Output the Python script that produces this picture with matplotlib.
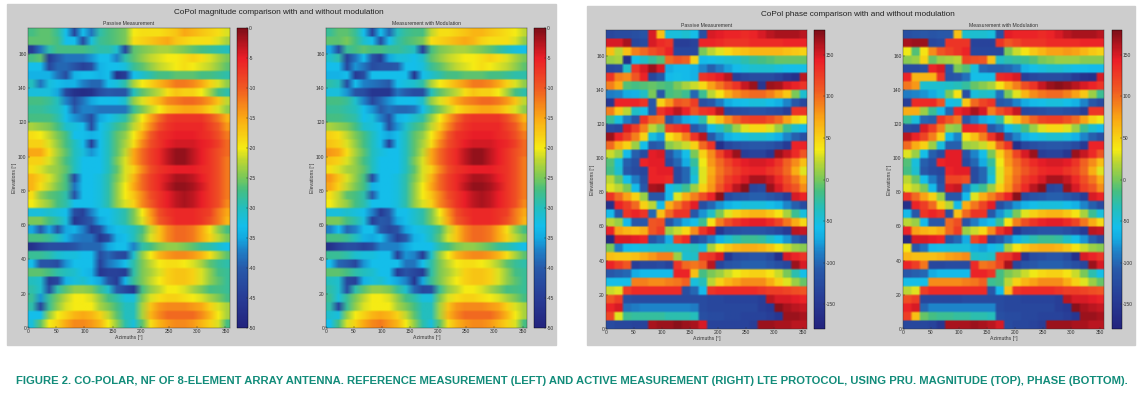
import numpy as np
import matplotlib.pyplot as plt
from matplotlib.cm import ScalarMappable
from matplotlib.colors import LinearSegmentedColormap, Normalize
from matplotlib.patches import Rectangle

W, H = 1141, 396

# all grids: rows run from elevation 175 (top) to 0, columns are 15 deg azimuth bins
mag_passive = [
    [-27,-26,-26,-28,-33,-43,-33,-38,-29,-27,-26,-25,-20,-19,-19,-19,-18,-17,-15,-16,-17,-18,-19,-21],
    [-26,-26,-26,-27,-33,-33,-42,-32,-28,-27,-26,-25,-19,-18,-17,-16,-15,-17,-18,-19,-19,-19,-21,-23],
    [-45,-38,-29,-27,-27,-27,-27,-28,-29,-29,-31,-43,-26,-25,-24,-23,-23,-24,-25,-26,-27,-28,-29,-30],
    [-27,-26,-45,-40,-38,-38,-38,-36,-33,-33,-37,-29,-26,-24,-22,-21,-20,-20,-19,-18,-19,-21,-23,-25],
    [-33,-33,-43,-39,-39,-41,-44,-42,-34,-33,-33,-32,-28,-26,-24,-22,-21,-20,-19,-20,-21,-22,-24,-26],
    [-34,-34,-34,-38,-42,-34,-33,-33,-34,-33,-47,-45,-33,-31,-29,-27,-27,-26,-26,-26,-27,-27,-28,-29],
    [-30,-38,-32,-33,-34,-34,-37,-39,-39,-33,-32,-29,-23,-20,-18,-16,-14,-12,-12,-13,-15,-18,-21,-24],
    [-32,-32,-32,-35,-43,-47,-48,-47,-42,-40,-41,-41,-30,-26,-24,-22,-19,-17,-18,-18,-20,-23,-27,-29],
    [-27,-27,-28,-30,-37,-42,-38,-35,-33,-33,-33,-31,-24,-21,-18,-16,-13,-12,-11,-11,-12,-14,-17,-22],
    [-28,-28,-29,-30,-33,-40,-37,-37,-38,-38,-38,-38,-28,-25,-22,-20,-17,-16,-15,-15,-16,-18,-21,-24],
    [-27,-27,-27,-29,-33,-36,-38,-42,-35,-33,-31,-29,-24,-20,-15,-11,-8,-7,-7,-7,-7,-9,-12,-16],
    [-23,-24,-25,-27,-31,-32,-33,-42,-33,-31,-28,-26,-22,-18,-13,-9,-7,-6,-6,-6,-6,-8,-10,-14],
    [-19,-20,-22,-25,-27,-33,-33,-34,-33,-30,-26,-24,-20,-15,-10,-7,-6,-5,-5,-5,-6,-7,-9,-12],
    [-18,-18,-21,-24,-27,-30,-33,-44,-33,-30,-26,-23,-19,-13,-9,-7,-5,-4,-4,-4,-5,-6,-8,-11],
    [-15,-15,-19,-23,-26,-30,-32,-36,-33,-30,-26,-22,-15,-11,-8,-6,-3,-1,-1,-3,-5,-7,-9,-11],
    [-18,-18,-21,-24,-27,-30,-33,-33,-33,-30,-25,-21,-15,-11,-8,-6,-3,-1,-1,-3,-5,-7,-9,-12],
    [-19,-21,-23,-24,-26,-30,-33,-33,-33,-30,-26,-21,-18,-13,-9,-7,-6,-5,-5,-5,-6,-7,-9,-12],
    [-16,-18,-21,-24,-27,-42,-33,-33,-32,-29,-25,-21,-16,-11,-8,-6,-4,-2,-2,-3,-5,-7,-9,-12],
    [-16,-19,-22,-25,-27,-38,-33,-33,-32,-29,-24,-20,-15,-11,-8,-6,-3,-1,-1,-2,-4,-7,-9,-12],
    [-19,-24,-26,-27,-29,-41,-33,-33,-32,-29,-24,-20,-17,-13,-9,-7,-5,-3,-2,-3,-5,-7,-9,-12],
    [-20,-22,-24,-27,-29,-33,-33,-33,-32,-29,-24,-21,-18,-13,-10,-7,-5,-3,-2,-3,-5,-7,-9,-13],
    [-32,-32,-31,-32,-33,-42,-44,-37,-33,-33,-31,-29,-25,-20,-14,-9,-7,-6,-6,-6,-7,-8,-12,-15],
    [-25,-25,-27,-29,-32,-46,-43,-40,-35,-33,-31,-29,-25,-21,-15,-10,-8,-6,-6,-6,-7,-9,-12,-16],
    [-35,-40,-35,-41,-35,-34,-37,-45,-42,-35,-33,-32,-30,-27,-22,-17,-13,-11,-11,-12,-15,-19,-24,-27],
    [-27,-27,-28,-30,-34,-37,-38,-38,-46,-42,-34,-33,-30,-26,-21,-17,-13,-11,-11,-12,-15,-18,-22,-25],
    [-47,-44,-42,-42,-42,-41,-39,-39,-39,-35,-33,-33,-37,-29,-27,-25,-24,-24,-25,-26,-28,-29,-31,-33],
    [-28,-28,-29,-31,-32,-32,-33,-33,-42,-39,-42,-43,-31,-24,-20,-16,-14,-13,-13,-14,-16,-19,-23,-26],
    [-33,-41,-41,-42,-36,-33,-33,-33,-44,-38,-36,-33,-29,-25,-22,-20,-19,-19,-20,-21,-23,-26,-28,-29],
    [-26,-26,-27,-29,-30,-31,-33,-34,-46,-44,-44,-45,-29,-25,-23,-21,-18,-17,-17,-18,-21,-24,-27,-28],
    [-30,-31,-45,-43,-34,-32,-31,-33,-35,-41,-45,-34,-28,-25,-22,-20,-18,-17,-17,-18,-21,-24,-26,-28],
    [-29,-31,-42,-29,-26,-24,-24,-25,-28,-31,-40,-43,-46,-27,-24,-22,-20,-20,-21,-23,-25,-27,-27,-28],
    [-28,-36,-28,-25,-22,-20,-20,-21,-24,-27,-29,-32,-32,-25,-21,-19,-18,-18,-19,-20,-21,-23,-25,-27],
    [-29,-43,-28,-24,-21,-20,-20,-20,-23,-25,-27,-30,-30,-23,-17,-14,-13,-13,-13,-14,-15,-18,-21,-23],
    [-33,-33,-24,-20,-18,-16,-15,-16,-18,-22,-26,-30,-30,-23,-16,-13,-11,-11,-11,-11,-13,-16,-20,-23],
    [-32,-26,-20,-18,-15,-13,-13,-14,-16,-20,-24,-29,-32,-26,-19,-16,-14,-13,-13,-14,-16,-18,-21,-27],
]

mag_modulated = [
    [-28,-26,-26,-28,-33,-44,-33,-39,-30,-28,-27,-27,-22,-19,-19,-18,-17,-16,-16,-17,-18,-19,-20,-22],
    [-26,-26,-25,-27,-31,-33,-42,-33,-29,-27,-26,-25,-19,-18,-17,-16,-15,-16,-18,-19,-19,-19,-21,-24],
    [-35,-42,-28,-27,-26,-27,-27,-28,-28,-29,-30,-44,-27,-25,-24,-23,-23,-24,-25,-26,-28,-30,-32,-33],
    [-31,-29,-44,-38,-33,-41,-45,-35,-32,-32,-33,-31,-26,-24,-22,-21,-20,-20,-19,-18,-19,-21,-23,-25],
    [-33,-33,-43,-36,-38,-42,-41,-41,-40,-33,-33,-32,-28,-26,-24,-22,-21,-20,-19,-20,-21,-22,-24,-26],
    [-34,-34,-33,-45,-42,-33,-33,-33,-33,-33,-46,-33,-31,-29,-27,-27,-26,-26,-26,-27,-27,-28,-29,-29],
    [-29,-30,-42,-33,-37,-38,-39,-40,-33,-32,-31,-29,-23,-20,-18,-16,-14,-12,-12,-13,-15,-18,-21,-24],
    [-32,-32,-36,-41,-42,-46,-46,-46,-38,-40,-42,-42,-30,-26,-24,-22,-19,-17,-18,-18,-20,-23,-27,-29],
    [-27,-27,-28,-31,-37,-43,-39,-36,-33,-33,-33,-31,-24,-21,-18,-15,-13,-12,-11,-11,-12,-14,-17,-22],
    [-28,-28,-29,-30,-33,-36,-40,-38,-39,-39,-38,-33,-28,-25,-22,-19,-17,-16,-15,-15,-16,-18,-21,-24],
    [-27,-27,-28,-29,-33,-32,-37,-42,-34,-33,-31,-29,-24,-20,-15,-11,-8,-7,-7,-7,-7,-9,-12,-16],
    [-23,-24,-25,-27,-31,-32,-33,-42,-36,-31,-28,-26,-22,-18,-13,-9,-7,-6,-6,-6,-6,-8,-10,-14],
    [-18,-19,-22,-25,-27,-30,-33,-35,-33,-30,-26,-24,-20,-15,-10,-7,-6,-5,-5,-5,-6,-7,-9,-12],
    [-17,-18,-21,-24,-27,-30,-33,-44,-33,-30,-26,-23,-19,-13,-9,-7,-5,-4,-4,-4,-5,-6,-8,-11],
    [-14,-15,-19,-23,-26,-30,-32,-33,-33,-30,-26,-22,-15,-11,-8,-6,-3,-1,-1,-3,-5,-7,-9,-11],
    [-17,-18,-21,-24,-27,-30,-33,-33,-33,-30,-25,-21,-15,-11,-8,-6,-3,-1,-1,-3,-5,-7,-9,-12],
    [-19,-21,-23,-24,-26,-30,-33,-33,-33,-30,-26,-21,-18,-13,-9,-7,-6,-5,-5,-5,-6,-7,-9,-12],
    [-14,-17,-21,-24,-27,-42,-33,-33,-32,-29,-25,-21,-16,-11,-8,-6,-4,-2,-2,-3,-5,-7,-9,-12],
    [-15,-18,-22,-25,-27,-34,-33,-33,-32,-29,-24,-20,-15,-11,-8,-6,-3,-1,-1,-2,-4,-7,-9,-12],
    [-19,-22,-26,-27,-29,-40,-33,-33,-32,-29,-24,-20,-17,-13,-9,-7,-5,-3,-2,-3,-5,-7,-9,-12],
    [-20,-22,-24,-27,-29,-33,-33,-33,-32,-29,-24,-21,-18,-13,-10,-7,-5,-3,-2,-3,-5,-7,-9,-13],
    [-32,-32,-31,-32,-33,-37,-45,-40,-33,-33,-31,-29,-25,-20,-14,-9,-7,-6,-6,-6,-7,-8,-12,-15],
    [-25,-25,-27,-29,-32,-44,-40,-41,-35,-33,-31,-29,-25,-21,-15,-10,-8,-6,-6,-6,-7,-9,-12,-16],
    [-37,-33,-39,-37,-33,-33,-40,-43,-41,-35,-33,-32,-30,-27,-22,-17,-13,-11,-11,-12,-15,-19,-24,-27],
    [-27,-27,-28,-30,-34,-35,-33,-38,-44,-40,-34,-33,-30,-26,-21,-17,-13,-11,-11,-12,-15,-18,-22,-25],
    [-47,-44,-42,-42,-44,-42,-37,-37,-37,-35,-33,-33,-33,-29,-27,-25,-24,-24,-25,-26,-28,-29,-31,-33],
    [-28,-28,-29,-31,-32,-32,-33,-33,-44,-36,-37,-45,-31,-24,-20,-16,-14,-13,-13,-14,-16,-19,-23,-26],
    [-33,-39,-40,-43,-36,-33,-33,-33,-33,-38,-38,-33,-29,-25,-22,-20,-19,-19,-20,-21,-23,-26,-28,-29],
    [-26,-26,-27,-29,-30,-31,-33,-33,-45,-41,-43,-45,-29,-25,-23,-21,-18,-17,-17,-18,-21,-24,-27,-28],
    [-30,-31,-43,-44,-34,-32,-31,-33,-35,-37,-46,-35,-28,-25,-22,-20,-18,-17,-17,-18,-21,-24,-26,-28],
    [-29,-31,-42,-29,-26,-24,-24,-25,-28,-31,-39,-43,-42,-28,-24,-22,-20,-20,-21,-23,-25,-27,-27,-28],
    [-28,-32,-28,-25,-22,-20,-20,-21,-24,-27,-29,-32,-32,-25,-21,-19,-18,-18,-19,-20,-21,-23,-25,-27],
    [-29,-43,-28,-24,-21,-20,-20,-20,-23,-25,-27,-30,-30,-23,-17,-14,-13,-13,-13,-14,-15,-18,-21,-23],
    [-31,-32,-24,-20,-18,-16,-15,-16,-18,-22,-26,-30,-30,-23,-16,-13,-11,-11,-11,-11,-13,-16,-20,-23],
    [-33,-27,-21,-18,-15,-13,-12,-14,-16,-20,-24,-29,-32,-26,-19,-16,-14,-13,-13,-14,-16,-18,-21,-27],
]

phase_passive = [
    [-130,-125,-125,-120,-115,150,60,-50,-50,-45,-55,-120,150,145,140,140,135,140,150,160,165,165,165,160],
    [150,150,165,-130,-125,150,135,130,-140,-140,-135,140,140,135,130,130,130,135,135,135,135,140,140,140],
    [60,20,60,90,100,115,125,140,-130,-130,-130,0,20,30,45,55,60,65,65,65,65,60,55,50],
    [10,15,-160,-55,-40,-25,-10,100,110,105,50,-60,-55,-50,-45,-40,-30,-20,-15,-10,-5,-5,-5,-5],
    [-130,-125,-40,130,150,170,150,-70,-60,-60,-65,-85,-105,-90,-75,-60,-50,-45,-45,-45,-50,-55,-55,-55],
    [130,90,85,110,140,-130,-110,-60,-55,-60,-65,130,135,145,160,-140,-130,-125,-125,-125,-135,-150,-160,160],
    [90,70,-10,-15,-10,-5,-10,-15,0,15,25,45,75,95,115,130,155,170,-150,170,165,150,140,130],
    [-90,-85,-70,-65,-40,0,-110,-15,-10,-20,-100,-20,20,40,70,85,95,100,100,90,75,55,0,-45],
    [-150,140,140,140,130,-110,50,80,110,105,125,-120,-110,-90,-70,-60,-55,-50,-50,-55,-65,-85,-110,-130],
    [90,55,20,-40,-55,-110,130,145,160,140,110,130,135,160,-130,-125,-120,-115,-115,-120,-125,-140,130,130],
    [-20,-50,-90,-110,130,100,95,-110,-90,-70,-60,-30,30,60,85,105,120,125,125,115,100,75,50,35],
    [-125,-130,150,125,90,20,0,120,130,140,-110,-95,-60,-40,-15,10,30,45,45,30,10,-20,-45,-60],
    [170,140,120,90,50,-50,-75,40,60,90,130,160,-110,-85,-65,-55,-50,-45,-45,-50,-65,-85,-105,-120],
    [100,70,50,10,-55,-110,-105,5,15,25,50,100,130,-160,-130,-120,-115,-110,-110,-115,-125,-145,140,140],
    [25,10,-60,-105,-125,145,150,-110,-85,-55,0,50,85,120,150,170,-140,-135,-135,-150,170,155,135,110],
    [-10,-50,-105,-120,140,145,145,-125,-100,-70,-25,35,80,100,120,135,145,150,150,145,130,105,85,60],
    [-15,-45,-110,-125,-130,140,145,145,-125,-100,-40,30,70,95,110,125,135,140,140,130,120,100,70,30],
    [20,-5,-55,-90,-120,140,140,135,-125,-100,-50,30,75,100,125,135,150,165,165,155,135,115,95,70],
    [30,20,0,-60,-110,165,170,-60,-40,-20,10,50,80,110,135,160,175,-130,-125,170,150,125,110,85],
    [130,100,75,50,10,-110,-110,-60,30,70,90,115,140,175,-125,-115,-110,-105,-105,-110,-120,-140,150,140],
    [-160,140,125,100,50,20,-60,70,95,120,145,-120,-100,-80,-65,-55,-50,-50,-50,-55,-65,-85,-105,-125],
    [-60,-110,130,140,130,-100,60,100,130,130,-110,-80,-40,0,30,50,60,65,65,55,40,15,-20,-50],
    [20,10,-60,-110,-110,110,115,-115,-90,-70,-55,-20,40,90,115,130,140,145,145,135,120,95,70,45],
    [140,75,65,60,70,110,125,10,25,45,85,130,150,-150,-125,-120,-115,-115,-115,-120,-130,-145,160,155],
    [-170,150,150,145,140,-115,-100,-70,120,135,-130,-110,-90,-65,-45,-30,-20,-20,-25,-40,-55,-80,-105,-125],
    [0,-90,-60,-55,-50,-45,-45,-40,-45,-40,-35,-50,15,40,55,65,70,70,65,55,40,25,10,5],
    [60,55,55,60,70,80,90,90,10,-45,-40,125,130,150,-150,-125,-120,-115,-115,-125,-160,150,140,130],
    [140,125,110,-140,-130,-130,-125,-135,130,100,95,105,160,-130,-115,-110,-105,-105,-105,-110,-120,-130,170,150],
    [-110,-105,-100,-70,-60,-60,-60,-60,140,140,60,-15,0,10,25,35,45,50,50,40,25,0,-30,-55],
    [-55,-55,-55,90,90,85,85,90,95,105,-50,-35,20,50,65,75,85,85,85,70,50,30,10,-5],
    [25,30,125,135,135,135,135,135,135,-120,-100,-60,130,135,135,135,135,135,130,125,125,120,115,110],
    [110,125,-120,-125,-125,-125,-125,-125,-125,-125,-125,-125,-130,-130,-135,-135,-135,-135,-140,160,150,150,145,140],
    [140,150,-95,-90,-85,-85,-85,-85,-85,-85,-90,-125,-130,-130,-130,-130,-130,-130,-140,-145,175,165,160,155],
    [120,30,-20,-25,-25,-25,-25,-30,-30,-30,-35,-120,-125,-125,-130,-130,-135,-135,-135,-140,-150,170,170,165],
    [-125,-130,-130,-135,-135,165,170,170,175,170,165,150,-135,-135,-135,-135,-135,-140,170,170,165,165,160,160],
]

phase_modulated = [
    [-120,-115,-110,-115,-110,-110,60,-45,-45,-45,-50,-120,145,140,140,140,135,140,150,160,165,165,165,160],
    [165,170,170,-130,-125,130,130,130,-135,-135,-135,130,110,120,130,130,130,135,135,135,135,140,140,140],
    [35,-10,40,85,110,120,130,140,-130,-130,-130,-130,0,25,40,55,65,75,75,80,75,65,55,50],
    [5,10,50,-5,10,15,20,120,115,110,60,-40,-30,-25,-20,-10,0,5,10,10,10,5,5,5],
    [-125,-125,-120,140,150,-110,0,-10,-50,-100,-105,-105,-100,-90,-65,-55,-50,-45,-45,-50,-55,-55,-60,-60],
    [140,65,65,65,130,-115,-110,-95,-55,-55,-55,135,140,150,-140,-130,-125,-125,-125,-130,-145,-155,-160,150],
    [95,80,-45,-45,-45,-40,-35,-25,-5,5,15,40,70,90,115,130,155,170,175,170,160,150,140,130],
    [-90,-85,-80,-70,-50,0,40,-120,-50,-40,-45,-95,0,30,65,85,95,100,100,90,75,55,10,-20],
    [-140,135,135,135,110,-55,-50,55,100,120,130,-110,-105,-85,-70,-60,-55,-50,-50,-55,-65,-85,-110,-125],
    [70,70,10,-20,-60,-100,140,150,165,150,90,115,130,155,-130,-125,-120,-115,-115,-120,-125,-140,130,130],
    [-20,-50,-100,-105,130,110,95,-110,-90,-70,-60,-30,30,60,85,105,120,125,125,115,100,75,50,35],
    [-125,-130,150,125,90,10,5,140,140,130,-110,-95,-60,-40,-15,10,30,45,45,30,10,-20,-45,-60],
    [160,140,120,90,50,-60,-85,40,60,90,130,160,-110,-85,-65,-55,-50,-45,-45,-50,-65,-85,-105,-120],
    [100,70,50,10,-50,-105,-105,10,15,25,50,100,130,-160,-130,-120,-115,-110,-110,-115,-125,-145,140,140],
    [30,10,-55,-105,-125,145,145,-115,-85,-55,0,50,85,120,150,170,-140,-135,-135,-150,170,155,135,110],
    [-10,-50,-105,-120,140,145,145,-125,-100,-70,-25,35,80,100,120,135,145,150,150,145,130,105,85,60],
    [-15,-45,-110,-125,-130,140,145,145,-125,-100,-40,30,70,95,110,125,135,140,140,130,120,100,70,30],
    [20,-5,-55,-90,-120,120,120,115,-125,-100,-50,30,75,100,125,135,150,165,165,155,135,115,95,70],
    [30,20,0,-60,-110,150,155,-90,-40,-20,10,50,80,110,135,160,175,-130,-125,170,150,125,110,85],
    [130,100,75,50,10,-110,-110,-60,30,70,90,115,140,175,-125,-115,-110,-105,-105,-110,-120,-140,150,140],
    [-160,140,125,100,50,20,-60,70,95,120,145,-120,-100,-80,-65,-55,-50,-50,-50,-55,-65,-85,-105,-125],
    [-60,-110,130,140,130,-120,60,100,130,130,-110,-80,-40,0,30,50,60,65,65,55,40,15,-20,-50],
    [20,10,-60,-110,-110,100,115,-115,-90,-70,-55,-20,40,90,115,130,140,145,145,135,120,95,70,45],
    [140,75,65,60,70,100,125,10,25,45,85,130,150,-150,-125,-120,-115,-115,-115,-120,-130,-145,160,155],
    [-170,150,150,145,140,-115,-100,-70,120,135,-130,-110,-90,-65,-45,-30,-20,-20,-25,-40,-55,-80,-105,-125],
    [40,-110,-95,-60,-55,-50,-50,-50,-70,-75,-60,-50,15,40,55,65,70,70,65,55,40,25,10,5],
    [65,60,60,60,65,75,80,85,-40,-45,-40,125,130,150,-150,-125,-120,-115,-115,-125,-160,150,140,130],
    [140,125,95,-130,-130,-125,-125,-125,135,95,100,120,165,-130,-115,-110,-105,-105,-105,-110,-120,-130,170,150],
    [-110,-105,-100,-70,-60,-60,-60,-60,140,140,130,-15,0,10,25,35,45,50,50,40,25,0,-30,-55],
    [-55,-55,-55,85,85,85,85,90,95,105,-20,-15,20,50,65,75,85,85,85,70,50,30,10,-5],
    [20,30,125,135,135,135,135,135,135,135,-110,-60,60,130,135,135,135,135,130,125,125,120,115,110],
    [115,125,-130,-130,-130,-130,-130,-125,-125,-125,-125,-125,-130,-130,-135,-135,-135,-135,-140,160,150,150,145,140],
    [140,150,-100,-85,-85,-85,-85,-85,-85,-85,-85,-125,-130,-130,-130,-130,-130,-130,-140,-145,175,165,160,155],
    [125,60,-5,-15,-20,-20,-25,-25,-30,-30,-35,-120,-125,-125,-130,-130,-135,-135,-135,-140,-150,170,170,165],
    [-130,-130,-130,-135,-150,165,165,165,170,165,160,150,-125,-130,-130,-135,-140,170,170,170,165,165,160,160],
]

azimuth_ticks = [0, 50, 100, 150, 200, 250, 300, 350]
elevation_ticks = [0, 20, 40, 60, 80, 100, 120, 140, 160]
mag_ticks = [0, -5, -10, -15, -20, -25, -30, -35, -40, -45, -50]
phase_ticks = [150, 100, 50, 0, -50, -100, -150]

# jet as it looks in the printed figure
scan_jet = LinearSegmentedColormap.from_list('scan_jet', [
    (0.00, '#23237d'), (0.10, '#283c96'), (0.20, '#285aaa'), (0.26, '#1e82c8'),
    (0.30, '#14aae1'), (0.34, '#14beeb'), (0.40, '#23bebe'), (0.46, '#46be82'),
    (0.50, '#78c85a'), (0.56, '#bed732'), (0.60, '#f5eb14'), (0.70, '#faaa14'),
    (0.80, '#f05a23'), (0.90, '#eb1e28'), (0.96, '#aa141e'), (1.00, '#7d0f19'),
])

plt.rcParams['font.family'] = ['Liberation Sans', 'DejaVu Sans']
plt.rcParams['axes.unicode_minus'] = False
TXT = '#333333'


def box(x0, y0, x1, y1):
    return [x0 / W, 1 - y1 / H, (x1 - x0) / W, (y1 - y0) / H]


def panel(fig, grid, title, axbox, cbox, vmin, vmax, cticks, wraps):
    ax = fig.add_axes(box(*axbox))
    norm = Normalize(vmin, vmax)
    data = np.repeat(np.array(grid, dtype=float), 4, axis=0)
    if wraps:
        # phase jumps at +-180, so blend colours and not values
        rgba = scan_jet(norm(np.repeat(data, 3, axis=1)))
        ax.imshow(rgba, aspect='auto', extent=[0, 360, 0, 175], interpolation='bilinear')
    else:
        ax.imshow(data, cmap=scan_jet, norm=norm, aspect='auto',
                  extent=[0, 360, 0, 175], interpolation='bilinear')
    ax.set_xlim(0, 358)
    ax.set_ylim(0, 175)
    ax.set_xticks(azimuth_ticks)
    ax.set_yticks(elevation_ticks)
    ax.tick_params(direction='in', length=1.5, width=0.3, labelsize=3.6, pad=1, colors=TXT)
    ax.set_title(title, fontsize=3.7, color=TXT, pad=2)
    ax.set_xlabel('Azimuths [°]', fontsize=3.7, color=TXT, labelpad=0.5)
    ax.set_ylabel('Elevations [°]', fontsize=3.7, color=TXT, labelpad=1)
    for s in ax.spines.values():
        s.set_linewidth(0.3)
        s.set_color(TXT)

    cax = fig.add_axes(box(*cbox))
    cb = fig.colorbar(ScalarMappable(norm=norm, cmap=scan_jet), cax=cax)
    cb.set_ticks(cticks)
    cb.ax.tick_params(direction='in', length=1.5, width=0.3, labelsize=3.6, pad=0.5, colors=TXT)
    cb.outline.set_linewidth(0.3)


fig = plt.figure(figsize=(W / 100, H / 100), dpi=100, facecolor='white')
fig.add_artist(Rectangle((7 / W, 1 - 345 / H), 549 / W, 341 / H, transform=fig.transFigure,
                         color='#cdcdcd', zorder=-5))
fig.add_artist(Rectangle((587 / W, 1 - 345 / H), 548 / W, 339 / H, transform=fig.transFigure,
                         color='#cdcdcd', zorder=-5))

panel(fig, mag_passive, 'Passive Measurement', (28, 28, 230, 328), (237, 28, 248, 328), -50, 0, mag_ticks, False)
panel(fig, mag_modulated, 'Measurement with Modulation', (326, 28, 527, 328), (534, 28, 546, 328), -50, 0, mag_ticks, False)
panel(fig, phase_passive, 'Passive Measurement', (606, 30, 807, 329), (814, 30, 825, 329), -180, 180, phase_ticks, True)
panel(fig, phase_modulated, 'Measurement with Modulation', (903, 30, 1104, 329), (1112, 30, 1122, 329), -180, 180, phase_ticks, True)

fig.text(279 / W, 1 - 13 / H, 'CoPol magnitude comparison with and without modulation',
         ha='center', va='center', fontsize=5.9, color='#222222')
fig.text(858 / W, 1 - 15 / H, 'CoPol phase comparison with and without modulation',
         ha='center', va='center', fontsize=5.9, color='#222222')

fig.text(572 / W, 1 - 381 / H,
         'FIGURE 2. CO-POLAR, NF OF 8-ELEMENT ARRAY ANTENNA. REFERENCE MEASUREMENT (LEFT) AND ACTIVE MEASUREMENT (RIGHT) LTE PROTOCOL, USING PRU. MAGNITUDE (TOP), PHASE (BOTTOM).',
         ha='center', va='center', fontsize=8.1, fontweight='bold', color='#128c7a')

fig.savefig('out.png', dpi=100)
